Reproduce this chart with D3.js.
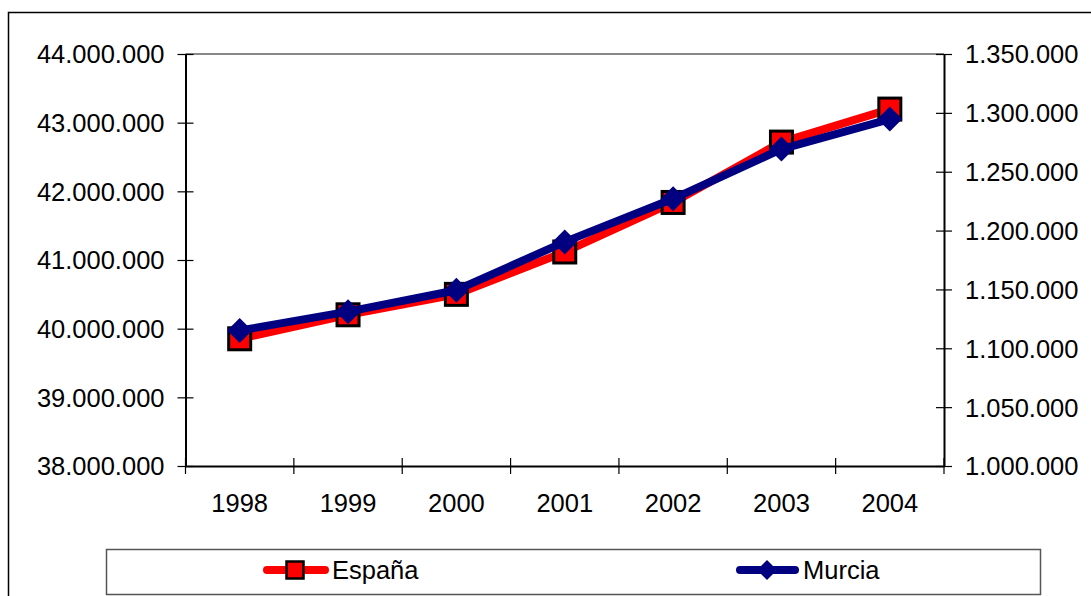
<!DOCTYPE html>
<html><head><meta charset="utf-8">
<script src="https://cdn.jsdelivr.net/npm/d3@7"></script>
<style>html,body{margin:0;padding:0;background:#fff;}svg{display:block;}</style>
</head><body>
<svg id="chart" width="1091" height="596"></svg>
<script>
const years = ["1998","1999","2000","2001","2002","2003","2004"];
const espana = [39852651, 40202160, 40499791, 41116842, 41837894, 42717064, 43197684];
const murcia = [1115068, 1131128, 1149328, 1190378, 1226993, 1269230, 1294694];
const leftTicks = [38000000, 39000000, 40000000, 41000000, 42000000, 43000000, 44000000];
const rightTicks = [1000000, 1050000, 1100000, 1150000, 1200000, 1250000, 1300000, 1350000];
const seriesNames = ["España", "Murcia"];

const svg = d3.select("#chart");
const font = "'Liberation Sans', Arial, sans-serif";
const fs = 25.5;
const fmt = v => d3.format(",")(v).replace(/,/g, ".");

// outer border
svg.append("rect").attr("x", 8.5).attr("y", 12.5).attr("width", 1200).attr("height", 700)
  .attr("fill", "#fff").attr("stroke", "#000").attr("stroke-width", 1.5);

const L = 185.5, R = 944, T = 54, B = 466;
const x = d3.scaleBand().domain(years).range([L, R]);
const yL = d3.scaleLinear().domain([38000000, 44000000]).range([B, T]);
const yR = d3.scaleLinear().domain([1000000, 1350000]).range([B, T]);

// plot area top border (gray)
svg.append("line").attr("x1", L).attr("x2", R).attr("y1", T).attr("y2", T)
  .attr("stroke", "#888").attr("stroke-width", 2);

// left axis
const gL = svg.append("g").attr("transform", `translate(${L},0)`)
  .call(d3.axisLeft(yL).tickValues(leftTicks).tickFormat(fmt).tickSize(0).tickPadding(21));
gL.select(".domain").attr("stroke", "#000").attr("stroke-width", 2);
gL.selectAll(".tick").append("line").attr("x1", -8).attr("x2", 8).attr("stroke", "#000").attr("stroke-width", 1.2);
gL.selectAll("text").attr("font-family", font).attr("font-size", fs).attr("fill", "#000").attr("dy", "0.35em");

// right axis
const gR = svg.append("g").attr("transform", `translate(${R},0)`)
  .call(d3.axisRight(yR).tickValues(rightTicks).tickFormat(fmt).tickSize(0).tickPadding(21));
gR.select(".domain").attr("stroke", "#000").attr("stroke-width", 2);
gR.selectAll(".tick").append("line").attr("x1", -8).attr("x2", 8).attr("stroke", "#000").attr("stroke-width", 1.2);
gR.selectAll("text").attr("font-family", font).attr("font-size", fs).attr("fill", "#000").attr("dy", "0.35em");

// bottom axis
const gB = svg.append("g").attr("transform", `translate(0,${B})`)
  .call(d3.axisBottom(x).tickSize(0).tickPadding(28));
gB.select(".domain").attr("stroke", "#000").attr("stroke-width", 2);
gB.selectAll("text").attr("font-family", font).attr("font-size", fs).attr("fill", "#000");
const bounds = years.map(d => x(d)).concat([x(years[years.length-1]) + x.bandwidth()]);
gB.selectAll(".bt").data(bounds).enter().append("line").attr("class", "bt")
  .attr("x1", d => d).attr("x2", d => d).attr("y1", -8).attr("y2", 8)
  .attr("stroke", "#000").attr("stroke-width", 1.2);

const cx = d => x(d) + x.bandwidth() / 2;

// España line
svg.append("path").datum(espana)
  .attr("d", d3.line().x((d, i) => cx(years[i])).y(d => yL(d)))
  .attr("fill", "none").attr("stroke", "#ff0000").attr("stroke-width", 8).attr("stroke-linejoin", "round");
svg.selectAll(".sq").data(espana).enter().append("rect").attr("class", "sq")
  .attr("x", (d, i) => cx(years[i]) - 11).attr("y", d => yL(d) - 11)
  .attr("width", 22).attr("height", 22)
  .attr("fill", "#ff0000").attr("stroke", "#000").attr("stroke-width", 3);

// Murcia line
svg.append("path").datum(murcia)
  .attr("d", d3.line().x((d, i) => cx(years[i])).y(d => yR(d)))
  .attr("fill", "none").attr("stroke", "#000080").attr("stroke-width", 8).attr("stroke-linejoin", "round");
const dia = (cxv, cyv, r) => `M${cxv},${cyv - r}L${cxv + r},${cyv}L${cxv},${cyv + r}L${cxv - r},${cyv}Z`;
svg.selectAll(".dm").data(murcia).enter().append("path").attr("class", "dm")
  .attr("d", (d, i) => dia(cx(years[i]), yR(d), 12.5))
  .attr("fill", "#000080");

// legend
svg.append("rect").attr("x", 106.5).attr("y", 549.5).attr("width", 934).attr("height", 45)
  .attr("fill", "#fff").attr("stroke", "#555").attr("stroke-width", 1.5);
const ly = 570;
svg.append("line").attr("x1", 267).attr("x2", 325).attr("y1", ly).attr("y2", ly)
  .attr("stroke", "#ff0000").attr("stroke-width", 8).attr("stroke-linecap", "round");
svg.append("rect").attr("x", 286.5).attr("y", ly - 8.5).attr("width", 17).attr("height", 17)
  .attr("fill", "#ff0000").attr("stroke", "#000").attr("stroke-width", 2.5);
svg.append("text").attr("x", 332).attr("y", ly).attr("dy", "0.35em").text(seriesNames[0])
  .attr("font-family", font).attr("font-size", fs).attr("fill", "#000");

svg.append("line").attr("x1", 740).attr("x2", 795).attr("y1", ly).attr("y2", ly)
  .attr("stroke", "#000080").attr("stroke-width", 8).attr("stroke-linecap", "round");
svg.append("path").attr("d", dia(767, ly, 10)).attr("fill", "#000080");
svg.append("text").attr("x", 803).attr("y", ly).attr("dy", "0.35em").text(seriesNames[1])
  .attr("font-family", font).attr("font-size", fs).attr("fill", "#000");
</script>
</body></html>
